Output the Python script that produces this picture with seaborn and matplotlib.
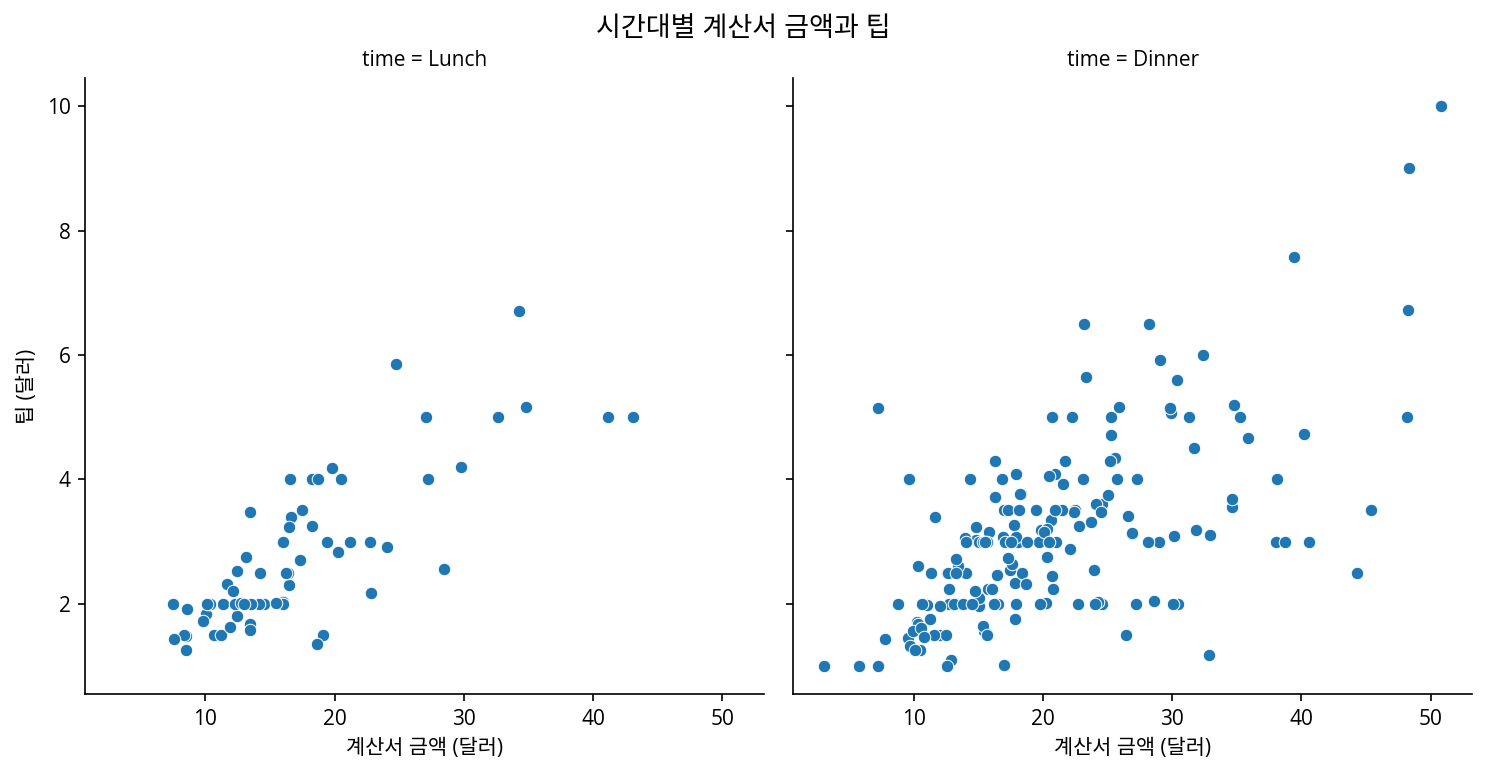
import matplotlib
matplotlib.use("Agg")
import matplotlib.pyplot as plt
import seaborn as sns
import pandas as pd

total_bill = [16.99,10.34,21.01,23.68,24.59,25.29,8.77,26.88,15.04,14.78,10.27,35.26,15.42,18.43,14.83,21.58,10.33,16.29,16.97,20.65,
17.92,20.29,15.77,39.42,19.82,17.81,13.37,12.69,21.7,19.65,9.55,18.35,15.06,20.69,17.78,24.06,16.31,16.93,18.69,31.27,
16.04,17.46,13.94,9.68,30.4,18.29,22.23,32.4,28.55,18.04,12.54,10.29,34.81,9.94,25.56,19.49,38.01,26.41,11.24,48.27,
20.29,13.81,11.02,18.29,17.59,20.08,16.45,3.07,20.23,15.01,12.02,17.07,26.86,25.28,14.73,10.51,17.92,27.2,22.76,17.29,
19.44,16.66,10.07,32.68,15.98,34.83,13.03,18.28,24.71,21.16,28.97,22.49,5.75,16.32,22.75,40.17,27.28,12.03,21.01,12.46,
11.35,15.38,44.3,22.42,20.92,15.36,20.49,25.21,18.24,14.31,14.0,7.25,38.07,23.95,25.71,17.31,29.93,10.65,12.43,24.08,
11.69,13.42,14.26,15.95,12.48,29.8,8.52,14.52,11.38,22.82,19.08,20.27,11.17,12.26,18.26,8.51,10.33,14.15,16.0,13.16,
17.47,34.3,41.19,27.05,16.43,8.35,18.64,11.87,9.78,7.51,14.07,13.13,17.26,24.55,19.77,29.85,48.17,25.0,13.39,16.49,
21.5,12.66,16.21,13.81,17.51,24.52,20.76,31.71,10.59,10.63,50.81,15.81,7.25,31.85,16.82,32.9,17.89,14.48,9.6,34.63,
34.65,23.33,45.35,23.17,40.55,20.69,20.9,30.46,18.15,23.1,15.69,19.81,28.44,15.48,16.58,7.56,10.34,43.11,13.0,13.51,
18.71,12.74,13.0,16.4,20.53,16.47,26.59,38.73,24.27,12.76,30.06,25.89,48.33,13.27,28.17,12.9,28.15,11.59,7.74,30.14,
12.16,13.42,8.58,15.98,13.42,16.27,10.09,20.45,13.28,22.12,24.01,15.69,11.61,10.77,15.53,10.07,12.6,32.83,35.83,29.03,
27.18,22.67,17.82,18.78]

tip = [1.01,1.66,3.5,3.31,3.61,4.71,2.0,3.12,1.96,3.23,1.71,5.0,1.57,3.0,3.02,3.92,1.67,3.71,3.5,3.35,
4.08,2.75,2.23,7.58,3.18,2.34,2.0,2.0,4.3,3.0,1.45,2.5,3.0,2.45,3.27,3.6,2.0,3.07,2.31,5.0,
2.24,2.54,3.06,1.32,5.6,3.0,5.0,6.0,2.05,3.0,2.5,2.6,5.2,1.56,4.34,3.51,3.0,1.5,1.76,6.73,
3.21,2.0,1.98,3.76,2.64,3.15,2.47,1.0,2.01,2.09,1.97,3.0,3.14,5.0,2.2,1.25,3.08,4.0,3.0,2.71,
3.0,3.4,1.83,5.0,2.03,5.17,2.0,4.0,5.85,3.0,3.0,3.5,1.0,4.3,3.25,4.73,4.0,1.5,3.0,1.5,
2.5,3.0,2.5,3.48,4.08,1.64,4.06,4.29,3.76,4.0,3.0,1.0,4.0,2.55,4.0,3.5,5.07,1.5,1.8,2.92,
2.31,1.68,2.5,2.0,2.52,4.2,1.48,2.0,2.0,2.18,1.5,2.83,1.5,2.0,3.25,1.25,2.0,2.0,2.0,2.75,
3.5,6.7,5.0,5.0,2.3,1.5,1.36,1.63,1.73,2.0,2.5,2.0,2.74,2.0,2.0,5.14,5.0,3.75,2.61,2.0,
3.5,2.5,2.0,2.0,3.0,3.48,2.24,4.5,1.61,2.0,10.0,3.16,5.15,3.18,4.0,3.11,2.0,2.0,4.0,3.55,
3.68,5.65,3.5,6.5,3.0,5.0,3.5,2.0,3.5,4.0,1.5,4.19,2.56,2.02,4.0,1.44,2.0,5.0,2.0,2.0,
4.0,2.01,2.0,2.5,4.0,3.23,3.41,3.0,2.03,2.23,2.0,5.16,9.0,2.5,6.5,1.1,3.0,1.5,1.44,3.09,
2.2,3.48,1.92,3.0,1.58,2.5,2.0,3.0,2.72,2.88,2.0,3.0,3.39,1.47,3.0,1.25,1.0,1.17,4.67,5.92,
2.0,2.0,1.75,3.0]

# time per row, as runs of the dataset order
time_runs = [("Dinner", 77), ("Lunch", 13), ("Dinner", 27), ("Lunch", 33), ("Dinner", 41),
             ("Lunch", 15), ("Dinner", 14), ("Lunch", 7), ("Dinner", 17)]
time = [t for t, n in time_runs for _ in range(n)]

col_order = ["Lunch", "Dinner"]

df = pd.DataFrame({"total_bill": total_bill, "tip": tip, "time": time})

plt.rcParams['font.family'] = ['Open Sans', 'Noto Sans CJK KR', 'DejaVu Sans']
plt.rcParams['axes.unicode_minus'] = False

g = sns.relplot(data=df, x="total_bill", y="tip", col="time", col_order=col_order,
                kind="scatter", height=5, aspect=1)
g.set_axis_labels("계산서 금액 (달러)", "팁 (달러)")
fig = g.figure
fig.set_size_inches(1487/150, 774/150)
fig.suptitle("시간대별 계산서 금액과 팁", fontsize=13)
fig.subplots_adjust(left=0.0572, right=0.9899, top=0.899, bottom=0.1034, wspace=0.044)
fig.savefig("out.png", dpi=150)
